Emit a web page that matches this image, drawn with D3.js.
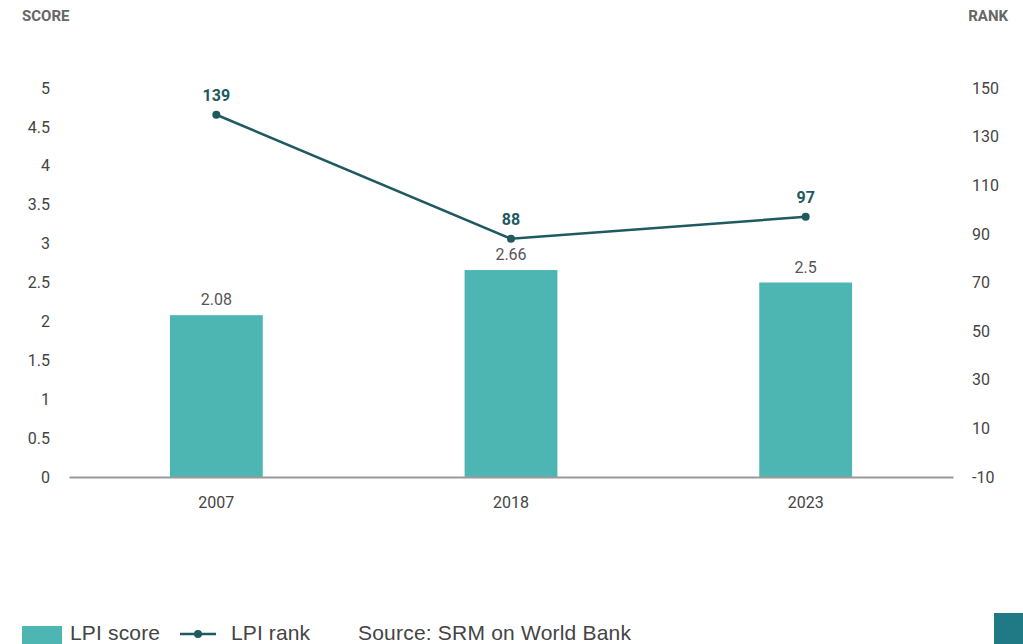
<!DOCTYPE html>
<html>
<head>
<meta charset="utf-8">
<script src="https://cdn.jsdelivr.net/npm/d3@7"></script>
<style>
  body { margin: 0; background: #fff; }
  svg { display: block; font-family: Roboto, "Open Sans", sans-serif; }
</style>
</head>
<body>
<div id="chart"></div>
<script>
var years = ['2007', '2018', '2023'];
var lpiScore = [2.08, 2.66, 2.5];
var lpiRank = [139, 88, 97];
var scoreTicks = [0, 0.5, 1, 1.5, 2, 2.5, 3, 3.5, 4, 4.5, 5];
var rankTicks = [-10, 10, 30, 50, 70, 90, 110, 130, 150];

var width = 1023, height = 644;
var barColor = '#4db6b2';
var lineColor = '#1e5a5f';

var svg = d3.select('#chart').append('svg')
    .attr('width', width)
    .attr('height', height);

var x = d3.scaleBand().domain(years).range([69, 953]).paddingInner(0.685).paddingOuter(0.3425);
var yL = d3.scaleLinear().domain([0, 5]).range([477, 88]);
var yR = d3.scaleLinear().domain([-10, 150]).range([477, 88]);

// axis titles
svg.append('text').attr('x', 22).attr('y', 21)
    .attr('font-size', 15).attr('font-weight', 'bold').attr('fill', '#666')
    .text('SCORE');
svg.append('text').attr('x', 1008).attr('y', 21)
    .attr('font-size', 15).attr('font-weight', 'bold').attr('fill', '#666')
    .attr('text-anchor', 'end')
    .text('RANK');

// left axis
var leftAxis = svg.append('g').attr('transform', 'translate(50,0)')
    .call(d3.axisLeft(yL).tickValues(scoreTicks).tickSize(0).tickPadding(0)
        .tickFormat(function (d) { return String(d); }));
leftAxis.select('.domain').remove();
leftAxis.selectAll('text').attr('font-size', 16).attr('fill', '#444')
    .attr('font-family', 'Roboto, sans-serif');

// right axis
var rightAxis = svg.append('g').attr('transform', 'translate(972,0)')
    .call(d3.axisRight(yR).tickValues(rankTicks).tickSize(0).tickPadding(0)
        .tickFormat(function (d) { return String(d); }));
rightAxis.select('.domain').remove();
rightAxis.selectAll('text').attr('font-size', 16).attr('fill', '#444')
    .attr('font-family', 'Roboto, sans-serif');

// bars
svg.selectAll('.bar').data(years).enter().append('rect')
    .attr('class', 'bar')
    .attr('x', function (d) { return x(d); })
    .attr('width', x.bandwidth())
    .attr('y', function (d, i) { return yL(lpiScore[i]); })
    .attr('height', function (d, i) { return yL(0) - yL(lpiScore[i]); })
    .attr('fill', barColor);

// baseline + x axis
var bottomAxis = svg.append('g').attr('transform', 'translate(0,477)')
    .call(d3.axisBottom(x).tickSize(0).tickPadding(20));
bottomAxis.select('.domain').attr('stroke', '#999').attr('stroke-width', 2);
bottomAxis.selectAll('text').attr('font-size', 16).attr('fill', '#444')
    .attr('font-family', 'Roboto, sans-serif');

// score labels
svg.selectAll('.slabel').data(years).enter().append('text')
    .attr('class', 'slabel')
    .attr('x', function (d) { return x(d) + x.bandwidth() / 2; })
    .attr('y', function (d, i) { return yL(lpiScore[i]) - 10; })
    .attr('text-anchor', 'middle')
    .attr('font-size', 16).attr('fill', '#555')
    .text(function (d, i) { return lpiScore[i]; });

// rank line
var line = d3.line()
    .x(function (d, i) { return x(years[i]) + x.bandwidth() / 2; })
    .y(function (d) { return yR(d); });
svg.append('path').datum(lpiRank)
    .attr('d', line)
    .attr('fill', 'none')
    .attr('stroke', lineColor)
    .attr('stroke-width', 2.5);
svg.selectAll('.dot').data(lpiRank).enter().append('circle')
    .attr('cx', function (d, i) { return x(years[i]) + x.bandwidth() / 2; })
    .attr('cy', function (d) { return yR(d); })
    .attr('r', 4)
    .attr('fill', lineColor);
svg.selectAll('.rlabel').data(lpiRank).enter().append('text')
    .attr('x', function (d, i) { return x(years[i]) + x.bandwidth() / 2; })
    .attr('y', function (d) { return yR(d) - 14; })
    .attr('text-anchor', 'middle')
    .attr('font-size', 16).attr('font-weight', 'bold').attr('fill', lineColor)
    .text(function (d) { return d; });

// legend (cut at the bottom edge, as in the source image)
var lg = svg.append('g').attr('font-family', '"Liberation Sans", Arial, sans-serif')
    .attr('font-size', 21).attr('fill', '#444');
lg.append('rect').attr('x', 22).attr('y', 626).attr('width', 40).attr('height', 18).attr('fill', barColor);
lg.append('text').attr('x', 70).attr('y', 640).attr('textLength', 90).text('LPI score');
lg.append('line').attr('x1', 180).attr('x2', 216).attr('y1', 634).attr('y2', 634)
    .attr('stroke', lineColor).attr('stroke-width', 2.5);
lg.append('circle').attr('cx', 198).attr('cy', 634).attr('r', 4).attr('fill', lineColor);
lg.append('text').attr('x', 231).attr('y', 640).attr('textLength', 79).text('LPI rank');
lg.append('text').attr('x', 358).attr('y', 640).attr('textLength', 273).text('Source: SRM on World Bank');

// corner mark
svg.append('rect').attr('x', 994).attr('y', 613).attr('width', 29).attr('height', 31).attr('fill', '#1f7a85');
</script>
</body>
</html>
